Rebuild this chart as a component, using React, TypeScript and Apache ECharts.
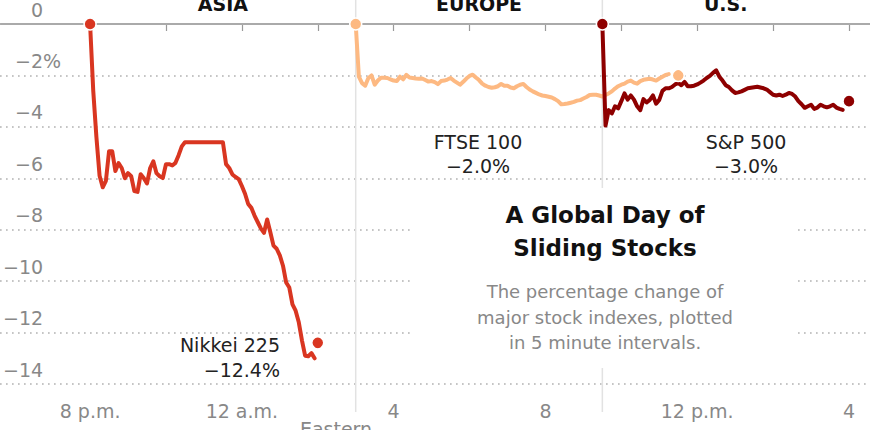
import React, { useEffect, useRef } from 'react';
import * as echarts from 'echarts';

const FONT = '"DejaVu Sans", "Noto Sans", sans-serif';

// x axis: hours after 8 p.m. (Eastern)
const tickHours = [0, 2, 4, 6, 8, 10, 12, 14, 16, 18, 20];
const labelHours = [0, 4, 8, 12, 16, 20];
const tickLabels = ['8 p.m.', '12 a.m.', '4', '8', '12 p.m.', '4'];

// sessions (hours after 8 p.m.)
const regions = ['ASIA', 'EUROPE', 'U.S.'];
const sessionOpens = [0, 7, 13.5];
const sessionEnd = 20;

// Nikkei 225, 5-minute values from 8 p.m. (null = lunch break)
const nikkeiStart = 0;
const nikkeiValues = [
  0, -2.6, -4.4, -5.9, -6.35, -6.1, -4.95, -4.95, -5.72, -5.41,
  -5.6, -6.0, -5.8, -5.92, -6.5, -6.53, -5.84, -6.0, -6.2, -5.6,
  -5.34, -5.8, -5.92, -5.99, -5.45, -5.45, -5.5, -5.4, -5.1, -4.76,
  -4.6, null, null, null, null, null, null, null, null, null,
  null, null, -4.6, -5.45, -5.6, -5.85, -5.95, -6.03, -6.3, -6.6,
  -7.0, -7.15, -7.45, -7.7, -7.95, -8.12, -7.6, -8.1, -8.62, -8.74,
  -9.0, -9.4, -10.05, -10.25, -10.9, -11.15, -11.6, -12.3, -12.9, -12.92,
  -12.8, -13.0,
];
const nikkeiClose = [6, -12.4];

// FTSE 100, 5-minute values from 3 a.m.
const ftseStart = 7;
const ftseValues = [
  0, -2.05, -2.3, -2.4, -2.1, -2.0, -2.36, -2.2, -2.09, -2.09,
  -2.1, -2.15, -2.2, -2.22, -2.05, -2.15, -1.98, -2.08, -2.1, -2.12,
  -2.13, -2.12, -2.18, -2.24, -2.22, -2.26, -2.34, -2.22, -2.2, -2.16,
  -2.1, -2.2, -2.28, -2.36, -2.25, -2.12, -2.02, -1.97, -2.08, -2.18,
  -2.32, -2.4, -2.45, -2.48, -2.46, -2.42, -2.33, -2.4, -2.4, -2.47,
  -2.5, -2.42, -2.36, -2.33, -2.45, -2.55, -2.62, -2.68, -2.74, -2.78,
  -2.8, -2.83, -2.86, -2.92, -3.0, -3.12, -3.11, -3.09, -3.06, -3.03,
  -2.98, -2.96, -2.9, -2.84, -2.76, -2.75, -2.75, -2.78, -2.82, -2.76,
  -2.7, -2.62, -2.51, -2.42, -2.36, -2.32, -2.24, -2.2, -2.28, -2.32,
  -2.22, -2.17, -2.15, -2.13, -2.16, -2.2, -2.12, -2.05, -1.98, -1.95,
];
const ftseClose = [15.5, -2.0];

// S&P 500, 5-minute values from 9:30 a.m.
const spStart = 13.5;
const spValues = [
  0, -3.95, -3.35, -3.48, -3.2, -3.28, -3.0, -2.7, -2.94, -2.78,
  -2.94, -3.2, -3.35, -2.92, -3.05, -2.95, -2.78, -3.1, -2.95, -2.6,
  -2.5, -2.5, -2.45, -2.35, -2.3, -2.38, -2.25, -2.42, -2.42, -2.4,
  -2.35, -2.28, -2.2, -2.1, -2.02, -1.9, -1.8, -2.05, -2.2, -2.38,
  -2.45, -2.58, -2.68, -2.66, -2.62, -2.56, -2.5, -2.48, -2.46, -2.44,
  -2.47, -2.5, -2.55, -2.65, -2.75, -2.78, -2.75, -2.8, -2.75, -2.68,
  -2.72, -2.82, -3.0, -3.12, -3.26, -3.2, -3.14, -3.3, -3.25, -3.14,
  -3.2, -3.24, -3.2, -3.14, -3.25, -3.3, -3.34,
];
const spClose = [20, -3.0];

const NIKKEI = '#d93621';
const FTSE = '#fdb982';
const SP = '#8e0000';

const toPoints = (start: number, values: (number | null)[]) =>
  values.map((v, i) => [start + i / 12, v]);

function lineSeries(name: string, start: number, values: (number | null)[], color: string, z: number) {
  return {
    type: 'line',
    name,
    data: toPoints(start, values),
    showSymbol: false,
    connectNulls: true,
    z,
    lineStyle: { color, width: 4, cap: 'round', join: 'round' },
  };
}

function dotSeries(name: string, pts: number[][], color: string) {
  return {
    type: 'scatter',
    name,
    data: pts,
    symbolSize: 12,
    z: 6,
    itemStyle: { color, borderColor: '#fff', borderWidth: 1.5, opacity: 1 },
  };
}

export default function App() {
  const ref = useRef<HTMLDivElement>(null);

  useEffect(() => {
    if (!ref.current) return;
    const chart = echarts.init(ref.current, undefined, { renderer: 'svg' });
    const pxPerHour = 37.95;
    const option: any = {
      animation: false,
      grid: { left: 0, right: 0, top: 22, bottom: 46 },
      xAxis: {
        type: 'value',
        min: -90 / pxPerHour,
        max: (870 - 90) / pxPerHour,
        offset: 4,
        axisLine: { show: false },
        splitLine: { show: false },
        axisTick: {
          show: true,
          length: 7,
          customValues: tickHours,
          lineStyle: { color: '#999', width: 1.2 },
        },
        axisLabel: {
          customValues: labelHours,
          margin: 13,
          color: '#888',
          fontSize: 19,
          fontFamily: FONT,
          formatter: (v: number) => {
            const i = labelHours.indexOf(Math.round(v));
            return i >= 0 ? tickLabels[i] : '';
          },
        },
      },
      yAxis: {
        type: 'value',
        min: -14,
        max: 0,
        interval: 2,
        axisLine: { show: false },
        axisTick: { show: false },
        splitLine: {
          show: true,
          lineStyle: { color: '#aaa', width: 1.5, type: [1.5, 4.5] },
        },
        axisLabel: {
          inside: true,
          margin: 61,
          align: 'right',
          verticalAlign: 'bottom',
          padding: [0, 0, 5, 0],
          formatter: (v: number) => {
            const n = v === 0 ? '0' : '\u2212' + Math.abs(v);
            return v === -2 ? `{n|${n}}{p|%}` : `{n|${n}}{p|}`;
          },
          rich: {
            n: { fontSize: 19, color: '#888', fontFamily: FONT },
            p: { fontSize: 19, color: '#888', fontFamily: FONT, width: 18, align: 'left' },
          },
        },
      },
      series: [
        {
          ...lineSeries('Nikkei 225', nikkeiStart, nikkeiValues, NIKKEI, 3),
          markLine: {
            silent: true,
            symbol: ['none', 'none'],
            label: { show: false },
            lineStyle: { color: '#aaa', width: 2, type: 'solid' },
            data: [{ yAxis: 0 }],
          },
        },
        lineSeries('FTSE 100', ftseStart, ftseValues, FTSE, 3),
        lineSeries('S&P 500', spStart, spValues, SP, 4),
        dotSeries('Nikkei dots', [[nikkeiStart, 0], nikkeiClose], NIKKEI),
        dotSeries('FTSE dots', [[ftseStart, 0], ftseClose], FTSE),
        dotSeries('S&P dots', [[spStart, 0], spClose], SP),
      ],
    };
    chart.setOption(option);

    const px = (h: number) => chart.convertToPixel({ xAxisIndex: 0 }, h) as number;
    const bounds = [...sessionOpens, sessionEnd];
    const graphics: any[] = [];
    sessionOpens.slice(1).forEach((h) => {
      const x = px(h);
      graphics.push({
        type: 'line',
        z: 0.5,
        shape: { x1: x, y1: 0, x2: x, y2: 412 },
        style: { stroke: '#e2e2e2', lineWidth: 1.5 },
      });
    });
    regions.forEach((r, i) => {
      const cx = (px(bounds[i]) + px(bounds[i + 1])) / 2;
      graphics.push({
        type: 'text',
        z: 10,
        x: cx,
        y: 4,
        style: {
          text: r,
          fontSize: 19,
          fontWeight: 'bold',
          fontFamily: FONT,
          fill: '#111',
          align: 'center',
          verticalAlign: 'middle',
        },
      });
    });
    graphics.push(
      {
        type: 'rect',
        z: 1,
        shape: { x: 412, y: 188, width: 385, height: 180 },
        style: { fill: '#fff' },
      },
      {
        type: 'text',
        z: 10,
        x: 280,
        y: 357.5,
        style: {
          text: 'Nikkei 225\n\u221212.4%',
          fontSize: 19,
          fontFamily: FONT,
          fill: '#222',
          align: 'right',
          verticalAlign: 'middle',
          lineHeight: 25,
        },
      },
      {
        type: 'text',
        z: 10,
        x: 478,
        y: 154,
        style: {
          text: 'FTSE 100\n\u22122.0%',
          fontSize: 19,
          fontFamily: FONT,
          fill: '#222',
          align: 'center',
          verticalAlign: 'middle',
          lineHeight: 24,
        },
      },
      {
        type: 'text',
        z: 10,
        x: 746,
        y: 154,
        style: {
          text: 'S&P 500\n\u22123.0%',
          fontSize: 19,
          fontFamily: FONT,
          fill: '#222',
          align: 'center',
          verticalAlign: 'middle',
          lineHeight: 24,
        },
      },
      {
        type: 'text',
        z: 10,
        x: 605,
        y: 231.5,
        style: {
          text: 'A Global Day of\nSliding Stocks',
          fontSize: 23,
          fontWeight: 'bold',
          fontFamily: FONT,
          fill: '#111',
          align: 'center',
          verticalAlign: 'middle',
          lineHeight: 33,
        },
      },
      {
        type: 'text',
        z: 10,
        x: 605,
        y: 317,
        style: {
          text: 'The percentage change of\nmajor stock indexes, plotted\nin 5 minute intervals.',
          fontSize: 18,
          fontFamily: FONT,
          fill: '#888',
          align: 'center',
          verticalAlign: 'middle',
          lineHeight: 25.5,
        },
      },
      {
        type: 'text',
        z: 10,
        x: 336,
        y: 429,
        style: {
          text: 'Eastern',
          fontSize: 19,
          fontFamily: FONT,
          fill: '#888',
          align: 'center',
          verticalAlign: 'middle',
        },
      }
    );
    chart.setOption({ graphic: { elements: graphics } });

    return () => chart.dispose();
  }, []);

  return (
    <div
      ref={ref}
      style={{ position: 'absolute', left: 0, top: 0, width: 870, height: 430 }}
    />
  );
}
